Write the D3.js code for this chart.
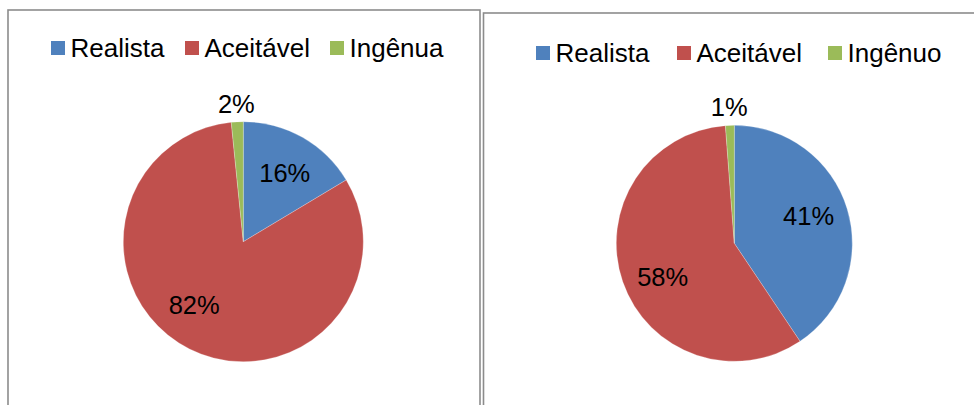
<!DOCTYPE html>
<html><head><meta charset="utf-8">
<script src="https://cdn.jsdelivr.net/npm/d3@7"></script>
<style>body{margin:0;background:#fff}svg{display:block}</style>
</head><body>
<script>
// ---- data ----
const categoriesLeft = ["Realista", "Aceitável", "Ingênua"];
const valuesLeft = [16.4, 82.0, 1.6];
const categoriesRight = ["Realista", "Aceitável", "Ingênuo"];
const valuesRight = [40.6, 58.2, 1.2];
const colors = ["#4F81BD", "#C0504D", "#9BBB59"];

// ---- layout ----
const W = 974, H = 405;
const font = "'Liberation Sans', Arial, sans-serif";
const panels = [
  {cats: categoriesLeft, vals: valuesLeft, box: [8, 10, 472, 420], cx: 243.3, cy: 241.7, r: 120,
   legend: {x: 51, y: 56.5, sq: 14, gaps: [0, 134, 279]}, nudge: [1.5, 11, 0]},
  {cats: categoriesRight, vals: valuesRight, box: [483.5, 13, 520, 420], cx: 734.3, cy: 243.3, r: 118,
   legend: {x: 536, y: 61.5, sq: 14, gaps: [0, 141, 292]}, nudge: [-3, -6, 0]}
];

const svg = d3.select("body").append("svg").attr("width", W).attr("height", H);

panels.forEach(p => {
  svg.append("rect").attr("x", p.box[0]).attr("y", p.box[1]).attr("width", p.box[2]).attr("height", p.box[3])
    .attr("fill", "#fff").attr("stroke", "#8c8c8c").attr("stroke-width", 1.6);

  const pie = d3.pie().sort(null).value(d => d)(p.vals);
  const arc = d3.arc().innerRadius(0).outerRadius(p.r);
  const g = svg.append("g").attr("transform", `translate(${p.cx},${p.cy})`);
  g.selectAll("path").data(pie).join("path").attr("d", arc)
    .attr("fill", (d, i) => colors[i]).attr("stroke", "#fff").attr("stroke-width", 0.4).attr("stroke-opacity", 0.6);

  g.selectAll("text").data(pie).join("text")
    .each(function(d, i) {
      const span = d.endAngle - d.startAngle;
      let a = (d.startAngle + d.endAngle) / 2 + p.nudge[i] * Math.PI / 180;
      const rr = span < 0.3 ? p.r + 18 : p.r * 0.67;
      d3.select(this).attr("x", Math.sin(a) * rr).attr("y", -Math.cos(a) * rr);
    })
    .attr("text-anchor", "middle").attr("dominant-baseline", "central")
    .attr("font-family", font).attr("font-size", 25.5).attr("fill", "#000")
    .text(d => Math.round(d.data) + "%");

  const lg = svg.append("g");
  p.cats.forEach((c, i) => {
    const x = p.legend.x + p.legend.gaps[i];
    lg.append("rect").attr("x", x).attr("y", p.legend.y - 15.5).attr("width", p.legend.sq).attr("height", p.legend.sq)
      .attr("fill", colors[i]);
    lg.append("text").attr("x", x + 19.5).attr("y", p.legend.y).attr("font-family", font).attr("font-size", 26)
      .attr("fill", "#000").text(c);
  });
});
</script>
</body></html>
